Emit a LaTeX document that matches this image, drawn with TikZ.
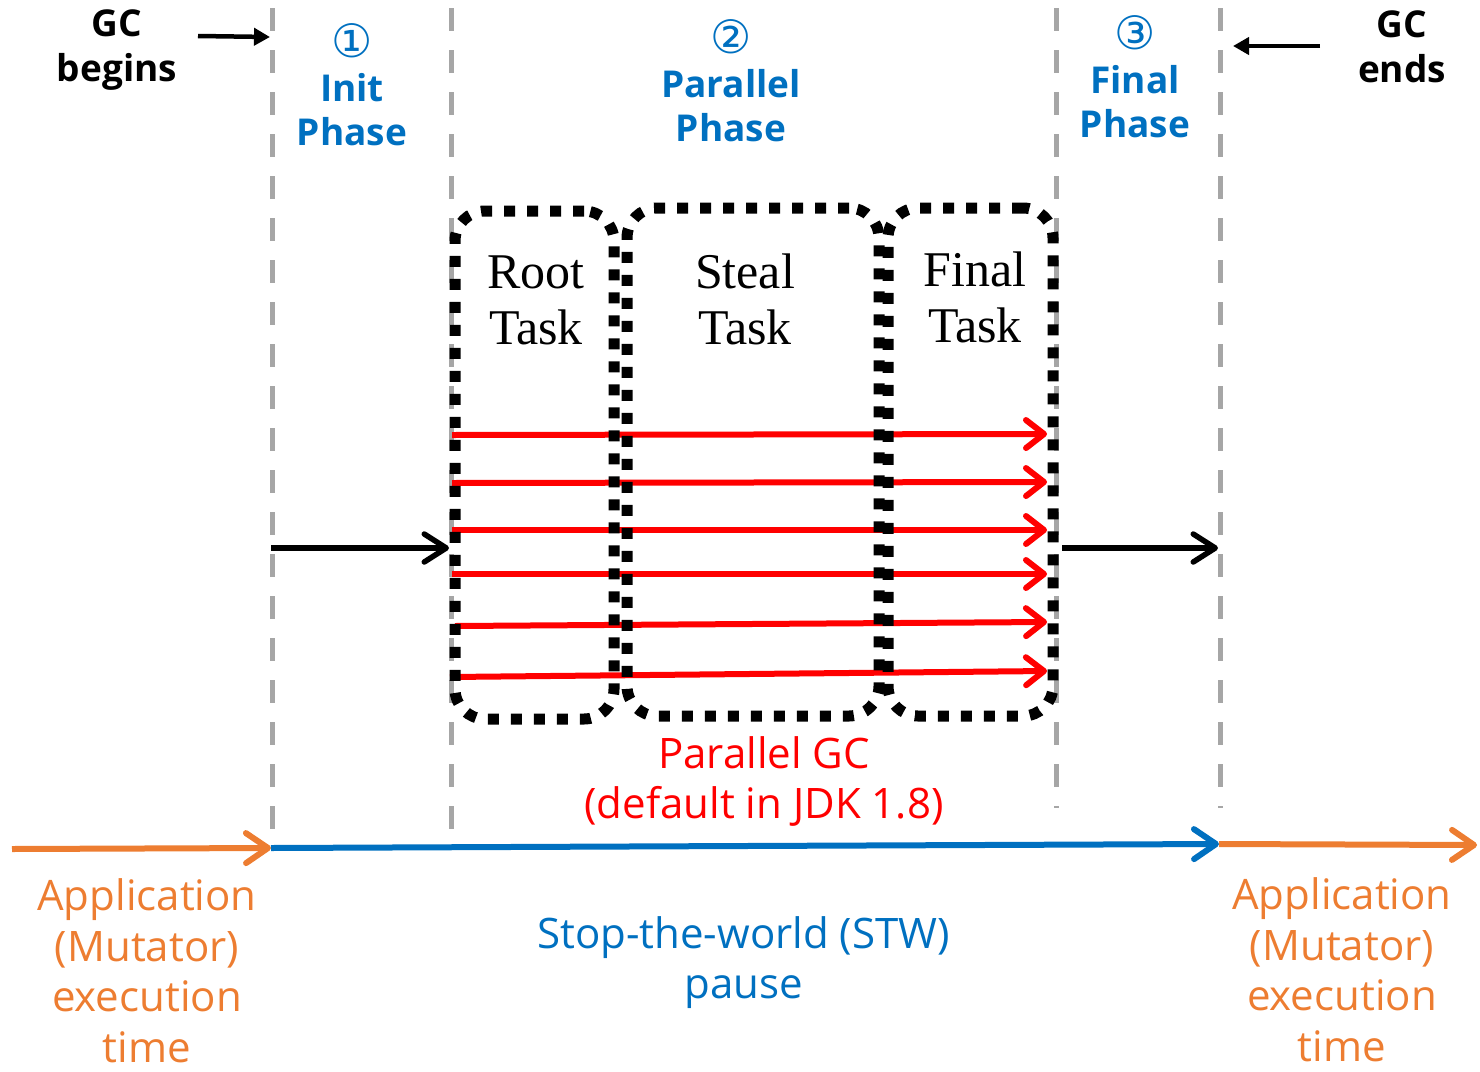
\documentclass[tikz,border=0pt]{standalone}
\usepackage{fontspec}
\setmainfont{Open Sans}
\newfontfamily\circfont{DejaVu Sans}
\newfontfamily\taskfont{Liberation Serif}
\usetikzlibrary{arrows.meta}
\definecolor{cblue}{HTML}{0070C0}
\definecolor{corange}{HTML}{ED7D31}
\definecolor{cred}{HTML}{FF0000}
\definecolor{cgray}{HTML}{A6A6A6}
\newcommand{\circnum}[1]{{\mdseries\circfont\fontsize{46}{46}\selectfont #1}}
\begin{document}
\begin{tikzpicture}[x=1pt,y=-1pt,
  gcline/.style={draw=cgray, line width=5pt, dash pattern=on 23pt off 19pt},
  taskbox/.style={draw=black, line width=11pt, dash pattern=on 11pt off 12pt, rounded corners=30pt, inner sep=0pt, minimum height=508pt},
  lbl/.style={align=center, inner sep=0pt, anchor=base},
  gctext/.style={lbl, font=\bfseries\fontsize{37}{45}\selectfont},
  phasetext/.style={lbl, text=cblue, font=\bfseries\fontsize{37}{44}\selectfont},
  tasktext/.style={lbl, font=\taskfont\fontsize{50}{56}\selectfont},
  apptext/.style={lbl, text=corange, font=\fontsize{42}{50.5}\selectfont},
  redarrow/.style={draw=cred, line width=6pt, -{Straight Barb[length=18pt,width=28pt,line cap=round,line join=round]}},
  blkarrow/.style={draw=black, line width=5.5pt, -{Straight Barb[length=22pt,width=28pt,line cap=round,line join=round]}},
  toparrow/.style={draw=black, line width=4.5pt, -{Triangle[length=16pt,width=17pt]}},
  timeline/.style={line width=6pt, -{Straight Barb[length=22pt,width=30pt,line cap=round,line join=round]}}
]
\useasboundingbox (0,0) rectangle (1480,1071);

% phase boundaries
\draw[gcline] (272,8) -- (272,832);
\draw[gcline] (451,8) -- (451,832);
\draw[gcline] (1056,8) -- (1056,808);
\draw[gcline] (1220,8) -- (1220,808);

% top labels
\node[gctext] (gcb) at (117,81) {GC\\begins};
\node[gctext] (gce) at (1402,82) {GC\\ends};
\coordinate (gcbA) at (198,36);
\coordinate (gcbB) at (270,37);
\coordinate (gceA) at (1320,46);
\coordinate (gceB) at (1233,46);
\draw[toparrow] (gcbA) -- (gcbB);
\draw[toparrow] (gceA) -- (gceB);

\node[phasetext] (ph1) at (352,145) {\circnum{①}\\Init\\Phase};
\node[phasetext] (ph2) at (731,141) {\circnum{②}\\Parallel\\Phase};
\node[phasetext] (ph3) at (1135,137) {\circnum{③}\\Final\\Phase};

% red worker arrows
\coordinate (r1a) at (452,435); \coordinate (r1b) at (1047,434);
\coordinate (r2a) at (452,483); \coordinate (r2b) at (1047,482);
\coordinate (r3a) at (452,530); \coordinate (r3b) at (1047,530);
\coordinate (r4a) at (452,574); \coordinate (r4b) at (1047,574);
\coordinate (r5a) at (455,626); \coordinate (r5b) at (1047,622);
\coordinate (r6a) at (450,677); \coordinate (r6b) at (1047,671);
\foreach \i in {1,...,6} {\draw[redarrow] (r\i a) -- (r\i b);}

% task boxes
\node[taskbox, minimum width=159pt] (root) at (534.5,465) {};
\node[taskbox, minimum width=252pt] (steal) at (753,462) {};
\node[taskbox, minimum width=165pt] (final) at (970.5,462) {};
\node[tasktext] (roott) at (536,344) {Root\\Task};
\node[tasktext] (stealt) at (745,344) {Steal\\Task};
\node[tasktext] (finalt) at (975,342) {Final\\Task};

% black connectors
\coordinate (initA) at (271,548);
\coordinate (initB) at (449,548);
\coordinate (finA) at (1062,548);
\coordinate (finB) at (1218,548);
\draw[blkarrow] (initA) -- (initB);
\draw[blkarrow] (finA) -- (finB);

% parallel GC label
\node[lbl, text=cred, font=\fontsize{42}{50}\selectfont] (pgc) at (764,818) {Parallel GC\\(default in JDK 1.8)};

% timeline
\coordinate (t0) at (12,849);
\coordinate (t1) at (271,848);
\coordinate (t2) at (1219,844);
\coordinate (t3) at (1477,845);
\draw[timeline, draw=corange] (t0) -- (t1);
\draw[timeline, draw=cblue] (t1) -- (t2);
\draw[timeline, draw=corange] (t2) -- (t3);

\node[apptext] (appL) at (147,1062) {Application\\(Mutator)\\execution\\time};
\node[apptext] (appR) at (1342,1061) {Application\\(Mutator)\\execution\\time};
\node[lbl, text=cblue, font=\fontsize{42}{50}\selectfont] (stw) at (743.5,998) {Stop-the-world (STW)\\pause};
\end{tikzpicture}
\end{document}
